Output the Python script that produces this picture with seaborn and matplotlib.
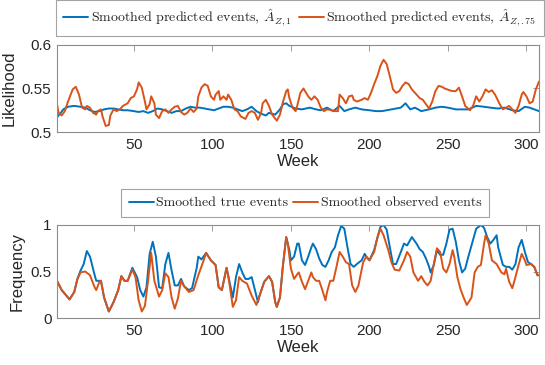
import matplotlib
matplotlib.use('Agg')
import matplotlib.pyplot as plt
import pandas as pd
import seaborn as sns

# ── data: top panel (likelihood) ──────────────────────────────
pred1_week = [1, 3, 5, 8, 12, 16, 19, 22, 25, 28, 31, 34, 37, 40, 43, 46, 50, 53, 56, 59,
              62, 65, 68, 71, 74, 77, 80, 83, 86, 89, 92, 95, 98, 101, 104, 107, 110, 113, 116, 119,
              122, 125, 128, 131, 134, 136, 140, 143, 145, 147, 149, 153, 157, 162, 166, 169, 173, 177, 181, 184,
              187, 191, 195, 200, 204, 208, 214, 220, 223, 226, 229, 233, 238, 242, 246, 250, 255, 259, 263, 268,
              273, 277, 282, 286, 291, 295, 299, 302, 305, 308]
pred1_val = [0.517, 0.521, 0.526, 0.529, 0.530, 0.529, 0.528, 0.525, 0.523, 0.524,
             0.526, 0.527, 0.527, 0.526, 0.525, 0.525, 0.524, 0.523, 0.524, 0.522,
             0.524, 0.527, 0.526, 0.524, 0.522, 0.524, 0.524, 0.527, 0.529, 0.528,
             0.528, 0.527, 0.526, 0.525, 0.527, 0.529, 0.529, 0.528, 0.526, 0.524,
             0.526, 0.529, 0.524, 0.521, 0.519, 0.522, 0.520, 0.526, 0.532, 0.533,
             0.530, 0.527, 0.526, 0.528, 0.526, 0.525, 0.528, 0.524, 0.530, 0.524,
             0.526, 0.528, 0.526, 0.525, 0.524, 0.524, 0.526, 0.528, 0.533, 0.526,
             0.528, 0.524, 0.526, 0.528, 0.529, 0.528, 0.526, 0.526, 0.526, 0.530,
             0.529, 0.528, 0.527, 0.528, 0.525, 0.524, 0.529, 0.528, 0.526, 0.524]

pred75_week = [1, 2, 4, 6, 8, 11, 13, 15, 17, 19, 20, 22, 24, 26, 27, 29, 30, 32, 34, 35,
               37, 39, 41, 43, 46, 48, 50, 52, 53, 55, 57, 58, 60, 61, 63, 64, 66, 68, 70, 72,
               74, 76, 78, 80, 82, 84, 86, 88, 90, 91, 93, 95, 97, 99, 101, 102, 104, 105, 107, 109,
               110, 112, 114, 116, 118, 121, 123, 125, 127, 129, 131, 132, 134, 136, 138, 141, 143, 145, 147, 148,
               149, 151, 153, 154, 156, 158, 161, 163, 165, 167, 169, 171, 173, 176, 178, 180, 181, 183, 185, 187,
               189, 190, 192, 195, 197, 199, 201, 203, 205, 207, 209, 211, 213, 215, 217, 219, 221, 223, 225, 227,
               230, 232, 234, 236, 238, 240, 242, 244, 246, 248, 251, 253, 255, 257, 259, 261, 264, 266, 268, 270,
               272, 274, 276, 278, 280, 283, 285, 287, 289, 291, 293, 295, 297, 298, 300, 302, 304, 306, 308]
pred75_val = [0.532, 0.522, 0.519, 0.524, 0.535, 0.549, 0.552, 0.543, 0.528, 0.526,
              0.530, 0.528, 0.522, 0.520, 0.524, 0.526, 0.518, 0.507, 0.508, 0.519,
              0.526, 0.524, 0.526, 0.530, 0.533, 0.539, 0.541, 0.549, 0.557, 0.551,
              0.535, 0.526, 0.532, 0.541, 0.533, 0.520, 0.516, 0.524, 0.526, 0.522,
              0.526, 0.529, 0.530, 0.523, 0.520, 0.522, 0.527, 0.523, 0.527, 0.541,
              0.551, 0.555, 0.553, 0.541, 0.537, 0.543, 0.547, 0.537, 0.541, 0.537,
              0.543, 0.537, 0.526, 0.524, 0.518, 0.515, 0.522, 0.524, 0.522, 0.514,
              0.522, 0.533, 0.537, 0.530, 0.520, 0.513, 0.520, 0.535, 0.547, 0.549,
              0.539, 0.528, 0.524, 0.530, 0.545, 0.550, 0.541, 0.537, 0.541, 0.537,
              0.528, 0.524, 0.526, 0.525, 0.524, 0.524, 0.543, 0.539, 0.533, 0.541,
              0.542, 0.537, 0.535, 0.537, 0.539, 0.537, 0.545, 0.555, 0.564, 0.576,
              0.583, 0.578, 0.564, 0.549, 0.545, 0.547, 0.553, 0.557, 0.555, 0.549,
              0.543, 0.539, 0.537, 0.532, 0.527, 0.535, 0.547, 0.553, 0.552, 0.550,
              0.548, 0.547, 0.547, 0.551, 0.541, 0.530, 0.525, 0.530, 0.541, 0.535,
              0.541, 0.549, 0.546, 0.548, 0.543, 0.532, 0.526, 0.528, 0.530, 0.526,
              0.522, 0.530, 0.543, 0.546, 0.541, 0.533, 0.535, 0.549, 0.558]

# ── data: bottom panel (frequency) ────────────────────────────
true_week = [1, 4, 7, 9, 12, 14, 16, 18, 20, 22, 25, 26, 28, 29, 31, 34, 37, 40, 42, 44,
             46, 49, 52, 54, 56, 58, 60, 62, 64, 66, 68, 70, 72, 74, 76, 78, 80, 82, 85, 87,
             90, 91, 93, 96, 99, 102, 104, 106, 109, 110, 113, 115, 117, 119, 121, 123, 125, 128, 129, 130,
             133, 136, 138, 140, 141, 143, 145, 147, 149, 150, 152, 154, 155, 157, 159, 161, 163, 164, 166, 168,
             170, 172, 174, 176, 178, 180, 182, 184, 186, 188, 190, 192, 195, 197, 198, 200, 203, 205, 207, 209,
             211, 213, 215, 217, 220, 222, 224, 226, 227, 230, 232, 234, 236, 238, 239, 241, 243, 245, 247, 249,
             251, 253, 255, 257, 259, 261, 263, 266, 268, 271, 273, 275, 277, 279, 281, 282, 285, 287, 289, 291,
             293, 295, 297, 299, 301, 303, 305, 307, 308]
true_val = [0.40, 0.30, 0.24, 0.20, 0.28, 0.42, 0.51, 0.58, 0.72, 0.66,
            0.46, 0.40, 0.40, 0.40, 0.22, 0.07, 0.17, 0.30, 0.45, 0.40,
            0.40, 0.54, 0.44, 0.30, 0.23, 0.33, 0.69, 0.82, 0.66, 0.33,
            0.32, 0.58, 0.70, 0.51, 0.35, 0.35, 0.42, 0.34, 0.30, 0.32,
            0.54, 0.66, 0.63, 0.70, 0.62, 0.57, 0.33, 0.30, 0.54, 0.46,
            0.22, 0.44, 0.58, 0.49, 0.42, 0.42, 0.44, 0.24, 0.17, 0.24,
            0.39, 0.45, 0.39, 0.17, 0.12, 0.22, 0.58, 0.87, 0.73, 0.62,
            0.66, 0.80, 0.80, 0.62, 0.57, 0.66, 0.76, 0.80, 0.74, 0.64,
            0.57, 0.55, 0.62, 0.71, 0.76, 0.89, 0.99, 0.96, 0.76, 0.58,
            0.55, 0.58, 0.62, 0.69, 0.66, 0.62, 0.73, 0.86, 0.98, 1.00,
            0.95, 0.76, 0.58, 0.58, 0.71, 0.80, 0.78, 0.84, 0.87, 0.80,
            0.74, 0.71, 0.64, 0.55, 0.49, 0.57, 0.73, 0.68, 0.68, 0.80,
            0.95, 0.96, 0.82, 0.62, 0.49, 0.53, 0.66, 0.84, 0.96, 1.00,
            0.97, 0.87, 0.80, 0.84, 0.89, 0.76, 0.57, 0.55, 0.55, 0.52,
            0.58, 0.76, 0.84, 0.71, 0.60, 0.58, 0.55, 0.46, 0.46]

obs_week = [1, 4, 7, 9, 12, 14, 16, 19, 22, 25, 26, 28, 29, 31, 34, 37, 40, 42, 44, 46,
            49, 51, 53, 55, 57, 59, 61, 63, 66, 68, 70, 72, 74, 76, 78, 80, 82, 85, 88, 91,
            94, 96, 99, 102, 104, 106, 109, 110, 113, 115, 117, 119, 122, 125, 128, 130, 133, 136, 138, 140,
            141, 143, 145, 147, 148, 150, 152, 154, 155, 157, 159, 161, 163, 164, 166, 168, 170, 172, 173, 175,
            177, 179, 181, 183, 185, 187, 189, 191, 193, 196, 198, 200, 203, 205, 207, 209, 212, 214, 216, 219,
            222, 224, 226, 228, 231, 233, 235, 237, 239, 241, 243, 245, 247, 249, 251, 253, 254, 256, 258, 260,
            262, 265, 267, 269, 271, 273, 274, 276, 278, 281, 284, 286, 287, 289, 291, 293, 295, 297, 299, 300,
            303, 305, 307, 308]
obs_val = [0.40, 0.30, 0.24, 0.20, 0.28, 0.42, 0.49, 0.50, 0.46, 0.33,
           0.30, 0.39, 0.40, 0.22, 0.07, 0.17, 0.30, 0.45, 0.40, 0.40,
           0.52, 0.44, 0.19, 0.07, 0.13, 0.40, 0.70, 0.40, 0.23, 0.30,
           0.48, 0.44, 0.22, 0.10, 0.21, 0.40, 0.34, 0.28, 0.30, 0.46,
           0.60, 0.70, 0.62, 0.57, 0.33, 0.30, 0.54, 0.46, 0.12, 0.19,
           0.44, 0.40, 0.37, 0.24, 0.14, 0.24, 0.39, 0.45, 0.39, 0.17,
           0.12, 0.22, 0.58, 0.87, 0.80, 0.53, 0.42, 0.47, 0.49, 0.39,
           0.31, 0.40, 0.49, 0.44, 0.40, 0.40, 0.30, 0.19, 0.28, 0.40,
           0.40, 0.55, 0.71, 0.66, 0.60, 0.58, 0.35, 0.28, 0.35, 0.60,
           0.66, 0.62, 0.71, 0.86, 0.96, 0.89, 0.73, 0.60, 0.52, 0.51,
           0.62, 0.71, 0.66, 0.49, 0.40, 0.45, 0.39, 0.35, 0.40, 0.58,
           0.75, 0.71, 0.53, 0.49, 0.58, 0.73, 0.66, 0.44, 0.31, 0.22,
           0.14, 0.22, 0.49, 0.55, 0.57, 0.80, 0.89, 0.80, 0.62, 0.58,
           0.49, 0.47, 0.53, 0.39, 0.32, 0.44, 0.57, 0.69, 0.62, 0.57,
           0.58, 0.55, 0.46, 0.46]

top_labels = ['Smoothed predicted events, $\\hat{A}_{Z,1}$',
              'Smoothed predicted events, $\\hat{A}_{Z,.75}$']
bottom_labels = ['Smoothed true events', 'Smoothed observed events']

# ── style ────────────────────────────────────────────────────
sns.set_style('white')
plt.rcParams['font.family'] = ['Liberation Sans', 'DejaVu Sans']
plt.rcParams['mathtext.fontset'] = 'cm'
plt.rcParams['axes.formatter.use_mathtext'] = True

blue = '#0072BD'
orange = '#D95319'
box_col = '#8c8c8c'
txt_col = '#262626'

df_top1 = pd.DataFrame({'week': pred1_week, 'val': pred1_val})
df_top2 = pd.DataFrame({'week': pred75_week, 'val': pred75_val})
df_true = pd.DataFrame({'week': true_week, 'val': true_val})
df_obs = pd.DataFrame({'week': obs_week, 'val': obs_val})

fig = plt.figure(figsize=(5.45, 3.65), dpi=100)
ax1 = fig.add_axes([57 / 545, 1 - 132 / 365, 482 / 545, 87 / 365])
ax2 = fig.add_axes([57 / 545, 1 - 318 / 365, 482 / 545, 93 / 365])

sns.lineplot(data=df_top1, x='week', y='val', ax=ax1, color=blue, lw=1.4,
             estimator=None, sort=False, label=top_labels[0])
sns.lineplot(data=df_top2, x='week', y='val', ax=ax1, color=orange, lw=1.4,
             estimator=None, sort=False, label=top_labels[1])
sns.lineplot(data=df_true, x='week', y='val', ax=ax2, color=blue, lw=1.4,
             estimator=None, sort=False, label=bottom_labels[0])
sns.lineplot(data=df_obs, x='week', y='val', ax=ax2, color=orange, lw=1.4,
             estimator=None, sort=False, label=bottom_labels[1])


def style_axes(ax, ylim, yticks, yticklabels, ylabel):
    ax.set_xlim(1, 308)
    ax.set_ylim(*ylim)
    ax.set_xticks([50, 100, 150, 200, 250, 300])
    ax.set_yticks(yticks)
    ax.set_yticklabels(yticklabels)
    ax.set_xlabel('Week', fontsize=12, color=txt_col, labelpad=2)
    ax.set_ylabel(ylabel, fontsize=12, color=txt_col, labelpad=4)
    ax.tick_params(direction='in', top=True, right=True, length=4, width=0.6,
                   color=box_col, labelcolor=txt_col, labelsize=11, pad=4)
    for s in ax.spines.values():
        s.set_color(box_col)
        s.set_linewidth(0.8)
    h, l = ax.get_legend_handles_labels()
    ax.get_legend().remove()
    return h, l


h1, l1 = style_axes(ax1, (0.5, 0.6), [0.5, 0.55, 0.6], ['0.5', '0.55', '0.6'], 'Likelihood')
h2, l2 = style_axes(ax2, (0, 1), [0, 0.5, 1], ['0', '0.5', '1'], 'Frequency')

leg_kw = dict(loc='center', ncol=2, prop={'family': 'cmr10', 'size': 10},
              frameon=True, fancybox=False, edgecolor=box_col,
              handlelength=1.8, handletextpad=0.2, borderpad=0.55)
lg1 = fig.legend(h1, l1, bbox_to_anchor=(300 / 545, 1 - 18 / 365), columnspacing=0.5, **leg_kw)
lg2 = fig.legend(h2, l2, bbox_to_anchor=(305 / 545, 1 - 203 / 365), columnspacing=0.3, **leg_kw)
for lg in (lg1, lg2):
    lg.get_frame().set_linewidth(0.8)

plt.savefig('out.png', dpi=100)
plt.close()
